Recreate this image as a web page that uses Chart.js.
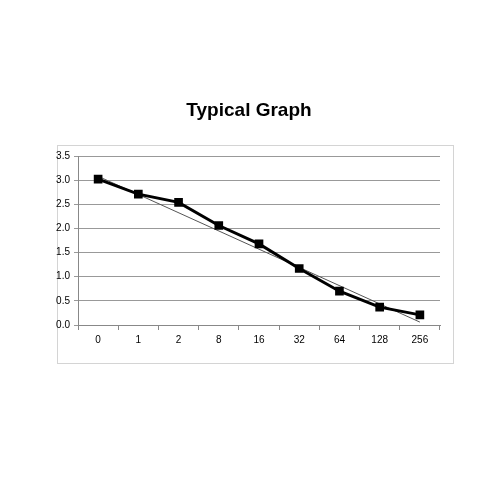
<!DOCTYPE html>
<html>
<head>
<script src="https://cdn.jsdelivr.net/npm/chart.js@4"></script>
<style>
  body { margin: 0; background: #fff; }
  #wrap { width: 500px; height: 500px; }
</style>
</head>
<body>
<div id="wrap"><canvas id="grafica"></canvas></div>
<script>
// datos del grafico
var categorias = ['0', '1', '2', '8', '16', '32', '64', '128', '256'];
var valores = [3.02, 2.71, 2.54, 2.06, 1.68, 1.17, 0.70, 0.37, 0.21];
// linea de tendencia: solo extremos, el resto se une con spanGaps
var tendencia = [3.08, null, null, null, null, null, null, null, 0.06];
var ticksY = [0, 0.5, 1, 1.5, 2, 2.5, 3, 3.5];

// marco exterior y titulo
var marco = {
    id: 'marco',
    beforeDraw: function(chart) {
        var ctx = chart.ctx;
        ctx.save();
        ctx.fillStyle = '#fff';
        ctx.fillRect(0, 0, 500, 500);
        ctx.strokeStyle = '#d4d4d4';
        ctx.lineWidth = 1;
        ctx.strokeRect(57.5, 145.5, 396, 218);
        ctx.fillStyle = '#000';
        ctx.font = 'bold 19px "Liberation Sans", Arial, sans-serif';
        ctx.textAlign = 'center';
        ctx.textBaseline = 'middle';
        ctx.fillText('Typical Graph', 249, 111);
        ctx.restore();
    }
};

var ctx = document.getElementById('grafica').getContext('2d');
var myChart = new Chart(ctx, {
    type: 'line',
    data: {
        labels: categorias,
        datasets: [{
            data: valores,
            borderColor: '#000',
            backgroundColor: '#000',
            borderWidth: 3,
            pointStyle: 'rect',
            pointRadius: 4,
            tension: 0
        }, {
            data: tendencia,
            borderColor: '#555',
            borderWidth: 1,
            pointRadius: 0,
            spanGaps: true
        }]
    },
    options: {
        responsive: true,
        maintainAspectRatio: false,
        animation: false,
        layout: { padding: { left: 40, right: 60, top: 156, bottom: 147 } },
        plugins: { legend: { display: false }, title: { display: false }, tooltip: { enabled: false } },
        scales: {
            x: {
                offset: true,
                grid: { display: true, drawOnChartArea: false, offset: true, tickLength: 5, color: '#888' },
                border: { color: '#888' },
                ticks: { color: '#000', font: { size: 10, family: 'Liberation Sans' }, padding: 4 },
                afterFit: function(s) { s.height = 28; }
            },
            y: {
                min: 0,
                max: 3.5,
                afterBuildTicks: function(s) { s.ticks = ticksY.map(function(v) { return { value: v }; }); },
                grid: { color: '#999', tickLength: 4 },
                border: { color: '#888' },
                ticks: {
                    color: '#000',
                    font: { size: 10, family: 'Liberation Sans' },
                    padding: 4,
                    callback: function(v) { return v.toFixed(1); }
                },
                afterFit: function(s) { s.width = 38; }
            }
        }
    },
    plugins: [marco]
});
</script>
</body>
</html>
